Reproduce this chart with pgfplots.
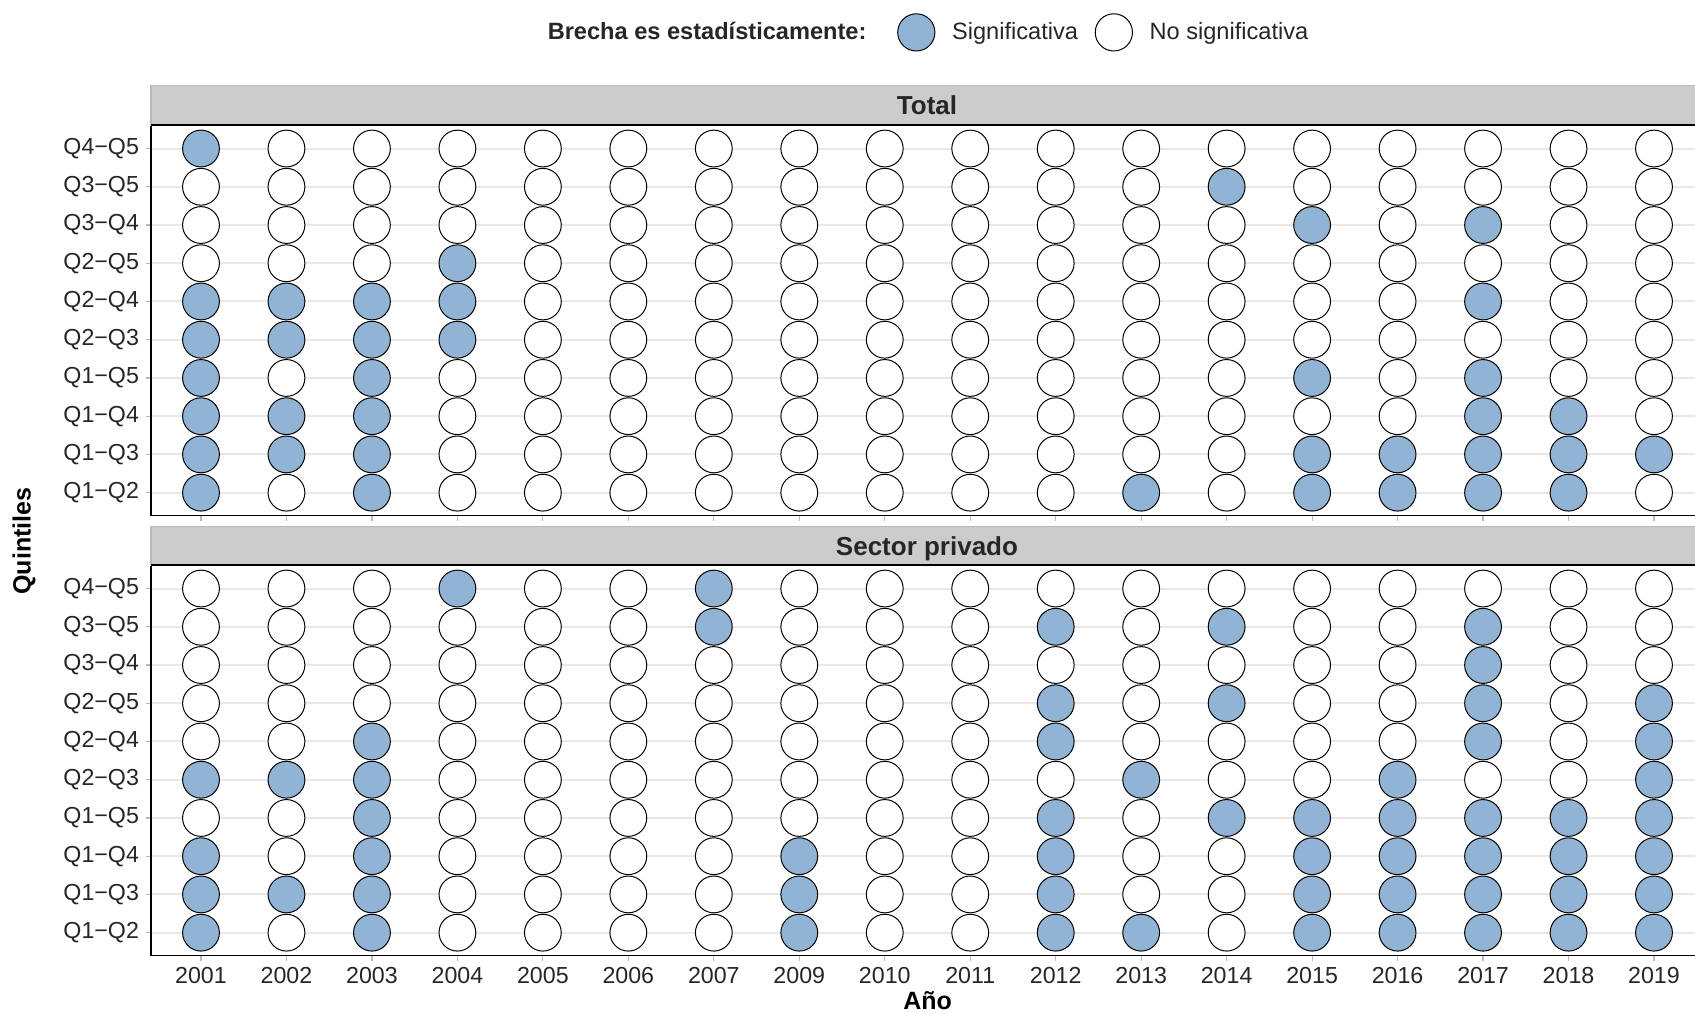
\documentclass[border=0pt]{standalone}
\usepackage{pgfplots}
\pgfplotsset{compat=1.18}
\usepackage{pgfplotstable}
\usepackage{fontspec}
\setmainfont{Liberation Sans}
\definecolor{sigblue}{RGB}{146,180,212}
\definecolor{stripgray}{RGB}{204,204,204}
\definecolor{gridgray}{RGB}{232,232,232}

% x: 1=2001 ... 7=2007, 8=2009 ... 18=2019 ; y: 1=Q1-Q2 ... 10=Q4-Q5 ; s: 1 = significativa
\pgfplotstableread[row sep=\\]{
x y s\\
1 10 1\\ 2 10 0\\ 3 10 0\\ 4 10 0\\ 5 10 0\\ 6 10 0\\ 7 10 0\\ 8 10 0\\ 9 10 0\\ 10 10 0\\ 11 10 0\\ 12 10 0\\ 13 10 0\\ 14 10 0\\ 15 10 0\\ 16 10 0\\ 17 10 0\\ 18 10 0\\
1 9 0\\ 2 9 0\\ 3 9 0\\ 4 9 0\\ 5 9 0\\ 6 9 0\\ 7 9 0\\ 8 9 0\\ 9 9 0\\ 10 9 0\\ 11 9 0\\ 12 9 0\\ 13 9 1\\ 14 9 0\\ 15 9 0\\ 16 9 0\\ 17 9 0\\ 18 9 0\\
1 8 0\\ 2 8 0\\ 3 8 0\\ 4 8 0\\ 5 8 0\\ 6 8 0\\ 7 8 0\\ 8 8 0\\ 9 8 0\\ 10 8 0\\ 11 8 0\\ 12 8 0\\ 13 8 0\\ 14 8 1\\ 15 8 0\\ 16 8 1\\ 17 8 0\\ 18 8 0\\
1 7 0\\ 2 7 0\\ 3 7 0\\ 4 7 1\\ 5 7 0\\ 6 7 0\\ 7 7 0\\ 8 7 0\\ 9 7 0\\ 10 7 0\\ 11 7 0\\ 12 7 0\\ 13 7 0\\ 14 7 0\\ 15 7 0\\ 16 7 0\\ 17 7 0\\ 18 7 0\\
1 6 1\\ 2 6 1\\ 3 6 1\\ 4 6 1\\ 5 6 0\\ 6 6 0\\ 7 6 0\\ 8 6 0\\ 9 6 0\\ 10 6 0\\ 11 6 0\\ 12 6 0\\ 13 6 0\\ 14 6 0\\ 15 6 0\\ 16 6 1\\ 17 6 0\\ 18 6 0\\
1 5 1\\ 2 5 1\\ 3 5 1\\ 4 5 1\\ 5 5 0\\ 6 5 0\\ 7 5 0\\ 8 5 0\\ 9 5 0\\ 10 5 0\\ 11 5 0\\ 12 5 0\\ 13 5 0\\ 14 5 0\\ 15 5 0\\ 16 5 0\\ 17 5 0\\ 18 5 0\\
1 4 1\\ 2 4 0\\ 3 4 1\\ 4 4 0\\ 5 4 0\\ 6 4 0\\ 7 4 0\\ 8 4 0\\ 9 4 0\\ 10 4 0\\ 11 4 0\\ 12 4 0\\ 13 4 0\\ 14 4 1\\ 15 4 0\\ 16 4 1\\ 17 4 0\\ 18 4 0\\
1 3 1\\ 2 3 1\\ 3 3 1\\ 4 3 0\\ 5 3 0\\ 6 3 0\\ 7 3 0\\ 8 3 0\\ 9 3 0\\ 10 3 0\\ 11 3 0\\ 12 3 0\\ 13 3 0\\ 14 3 0\\ 15 3 0\\ 16 3 1\\ 17 3 1\\ 18 3 0\\
1 2 1\\ 2 2 1\\ 3 2 1\\ 4 2 0\\ 5 2 0\\ 6 2 0\\ 7 2 0\\ 8 2 0\\ 9 2 0\\ 10 2 0\\ 11 2 0\\ 12 2 0\\ 13 2 0\\ 14 2 1\\ 15 2 1\\ 16 2 1\\ 17 2 1\\ 18 2 1\\
1 1 1\\ 2 1 0\\ 3 1 1\\ 4 1 0\\ 5 1 0\\ 6 1 0\\ 7 1 0\\ 8 1 0\\ 9 1 0\\ 10 1 0\\ 11 1 0\\ 12 1 1\\ 13 1 0\\ 14 1 1\\ 15 1 1\\ 16 1 1\\ 17 1 1\\ 18 1 0\\
}\tabTotal

\pgfplotstableread[row sep=\\]{
x y s\\
1 10 0\\ 2 10 0\\ 3 10 0\\ 4 10 1\\ 5 10 0\\ 6 10 0\\ 7 10 1\\ 8 10 0\\ 9 10 0\\ 10 10 0\\ 11 10 0\\ 12 10 0\\ 13 10 0\\ 14 10 0\\ 15 10 0\\ 16 10 0\\ 17 10 0\\ 18 10 0\\
1 9 0\\ 2 9 0\\ 3 9 0\\ 4 9 0\\ 5 9 0\\ 6 9 0\\ 7 9 1\\ 8 9 0\\ 9 9 0\\ 10 9 0\\ 11 9 1\\ 12 9 0\\ 13 9 1\\ 14 9 0\\ 15 9 0\\ 16 9 1\\ 17 9 0\\ 18 9 0\\
1 8 0\\ 2 8 0\\ 3 8 0\\ 4 8 0\\ 5 8 0\\ 6 8 0\\ 7 8 0\\ 8 8 0\\ 9 8 0\\ 10 8 0\\ 11 8 0\\ 12 8 0\\ 13 8 0\\ 14 8 0\\ 15 8 0\\ 16 8 1\\ 17 8 0\\ 18 8 0\\
1 7 0\\ 2 7 0\\ 3 7 0\\ 4 7 0\\ 5 7 0\\ 6 7 0\\ 7 7 0\\ 8 7 0\\ 9 7 0\\ 10 7 0\\ 11 7 1\\ 12 7 0\\ 13 7 1\\ 14 7 0\\ 15 7 0\\ 16 7 1\\ 17 7 0\\ 18 7 1\\
1 6 0\\ 2 6 0\\ 3 6 1\\ 4 6 0\\ 5 6 0\\ 6 6 0\\ 7 6 0\\ 8 6 0\\ 9 6 0\\ 10 6 0\\ 11 6 1\\ 12 6 0\\ 13 6 0\\ 14 6 0\\ 15 6 0\\ 16 6 1\\ 17 6 0\\ 18 6 1\\
1 5 1\\ 2 5 1\\ 3 5 1\\ 4 5 0\\ 5 5 0\\ 6 5 0\\ 7 5 0\\ 8 5 0\\ 9 5 0\\ 10 5 0\\ 11 5 0\\ 12 5 1\\ 13 5 0\\ 14 5 0\\ 15 5 1\\ 16 5 0\\ 17 5 0\\ 18 5 1\\
1 4 0\\ 2 4 0\\ 3 4 1\\ 4 4 0\\ 5 4 0\\ 6 4 0\\ 7 4 0\\ 8 4 0\\ 9 4 0\\ 10 4 0\\ 11 4 1\\ 12 4 0\\ 13 4 1\\ 14 4 1\\ 15 4 1\\ 16 4 1\\ 17 4 1\\ 18 4 1\\
1 3 1\\ 2 3 0\\ 3 3 1\\ 4 3 0\\ 5 3 0\\ 6 3 0\\ 7 3 0\\ 8 3 1\\ 9 3 0\\ 10 3 0\\ 11 3 1\\ 12 3 0\\ 13 3 0\\ 14 3 1\\ 15 3 1\\ 16 3 1\\ 17 3 1\\ 18 3 1\\
1 2 1\\ 2 2 1\\ 3 2 1\\ 4 2 0\\ 5 2 0\\ 6 2 0\\ 7 2 0\\ 8 2 1\\ 9 2 0\\ 10 2 0\\ 11 2 1\\ 12 2 0\\ 13 2 0\\ 14 2 1\\ 15 2 1\\ 16 2 1\\ 17 2 1\\ 18 2 1\\
1 1 1\\ 2 1 0\\ 3 1 1\\ 4 1 0\\ 5 1 0\\ 6 1 0\\ 7 1 0\\ 8 1 1\\ 9 1 0\\ 10 1 0\\ 11 1 1\\ 12 1 1\\ 13 1 0\\ 14 1 1\\ 15 1 1\\ 16 1 1\\ 17 1 1\\ 18 1 1\\
}\tabPrivado

\pgfplotsset{
  panel/.style={
    scale only axis, width=772pt, height=195pt,
    xmin=0.415, xmax=18.48, ymin=0.4, ymax=10.6,
    axis x line*=bottom, axis y line*=left,
    axis line style={black, line width=0.7pt},
    xtick={1,...,18}, ytick={1,...,10},
    yticklabels={Q1−Q2,Q1−Q3,Q1−Q4,Q1−Q5,Q2−Q3,Q2−Q4,Q2−Q5,Q3−Q4,Q3−Q5,Q4−Q5},
    ymajorgrids, major grid style={gridgray, line width=1pt},
    tick style={gray!55, line width=0.6pt}, major tick length=2.5pt, tick align=outside,
    tick label style={font=\fontsize{11.6}{13}\selectfont, text=black!85},
    mark size=9.2pt,
  },
  dots/.style={scatter, only marks, mark=*, forget plot,
    scatter src=explicit symbolic,
    scatter/classes={0={fill=white, draw=black, line width=0.5pt}, 1={fill=sigblue, draw=black, line width=0.5pt}}},
}

\begin{document}
\begin{tikzpicture}[x=1pt,y=1pt]
\useasboundingbox (0,0) rectangle (847.5,506.5);

\begin{axis}[panel, name=top, at={(75.5pt,248.7pt)}, anchor=south west,
  xticklabels={},
  legend columns=3,
  legend style={at={(rel axis cs:0.499,1.239)}, anchor=center, draw=none, fill=none,
    font=\fontsize{11.8}{13}\selectfont, text=black!85,
    /tikz/every odd column/.append style={column sep=6.6pt},
    /tikz/every even column/.append style={column sep=6.6pt}},
]
\addlegendimage{empty legend}
\addlegendentry{\textbf{Brecha es estadísticamente:}\rule{7pt}{0pt}}
\addlegendimage{only marks, mark=*, mark size=9.3pt, mark options={fill=sigblue, draw=black, line width=0.5pt}}
\addlegendentry{Significativa}
\addlegendimage{only marks, mark=*, mark size=9.3pt, mark options={fill=white, draw=black, line width=0.5pt}}
\addlegendentry{No significativa}
\addplot[dots] table[x=x, y=y, meta=s]{\tabTotal};
\end{axis}

\begin{axis}[panel, name=bot, at={(75.5pt,28.7pt)}, anchor=south west,
  xticklabels={2001,2002,2003,2004,2005,2006,2007,2009,2010,2011,2012,2013,2014,2015,2016,2017,2018,2019},
  xlabel={\textbf{Año}}, ylabel={\textbf{Quintiles}},
  xlabel style={at={(axis description cs:0.503,-0.116)}, anchor=center, font=\fontsize{12.5}{14}\selectfont, text=black},
  ylabel style={at={(axis description cs:-0.0823,1.063)}, anchor=center, font=\fontsize{12.5}{14}\selectfont, text=black},
]
\addplot[dots] table[x=x, y=y, meta=s]{\tabPrivado};
\end{axis}

% strips
\fill[stripgray] (75.5,443.8) rectangle (850,463.8);
\draw[gray!55, line width=0.7pt] (75.5,443.8) -- (75.5,463.8) -- (850,463.8);
\draw[black, line width=0.9pt] (75.5,443.8) -- (850,443.8);
\node[font=\fontsize{13}{15}\selectfont\bfseries, text=black!85, anchor=base, inner sep=0pt] at (463.5,449.2) {Total};

\fill[stripgray] (75.5,224) rectangle (850,243.3);
\draw[gray!55, line width=0.7pt] (75.5,224) -- (75.5,243.3) -- (850,243.3);
\draw[black, line width=0.9pt] (75.5,224) -- (850,224);
\node[font=\fontsize{13}{15}\selectfont\bfseries, text=black!85, anchor=base, inner sep=0pt] at (463.5,229.0) {Sector privado};
\end{tikzpicture}
\end{document}
